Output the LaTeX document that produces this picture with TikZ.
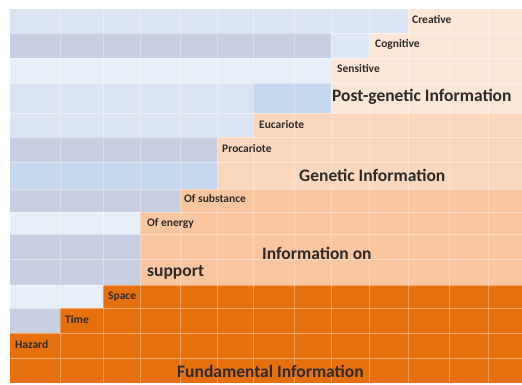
\documentclass[tikz,border=0pt]{standalone}
\usepackage{fontspec}
\setmainfont{Carlito}
\definecolor{bleuA}{HTML}{DAE4F2}
\definecolor{bleuB}{HTML}{C9CFE3}
\definecolor{bleuC}{HTML}{E8EEF7}
\definecolor{bleuD}{HTML}{C6D8F0}
\definecolor{bleuE}{HTML}{DDE7F5}
\definecolor{pecheA}{HTML}{FCE6D8}
\definecolor{pecheB}{HTML}{FBD7BD}
\definecolor{pecheC}{HTML}{F9C6A0}
\definecolor{orangeF}{HTML}{E6700D}
\definecolor{texte}{HTML}{2E2A28}

\begin{document}
\begin{tikzpicture}[x=1pt,y=-1pt,
   petit/.style={font=\bfseries\fontsize{11.5}{12}\selectfont,text=texte,anchor=west,inner sep=0pt},
   grand/.style={font=\bfseries\fontsize{17.5}{18}\selectfont,text=texte,anchor=west,inner sep=0pt}]
   \useasboundingbox (0,0) rectangle (522,385);
   % bandes : haut / bas / debut de l'escalier / bleu / peche
   \foreach \h/\b/\d/\cb/\cp in {9/33/408/bleuA/pecheA, 33/58/369/bleuB/pecheA,
       58/83/331/bleuC/pecheA, 83/113/331/bleuA/pecheA, 113/137/253/bleuA/pecheB,
       137/162/217/bleuB/pecheB, 162/189/217/bleuD/pecheB, 189/212/180/bleuB/pecheC,
       212/234/140/bleuC/pecheC, 234/259/140/bleuB/pecheC, 259/285/140/bleuB/pecheC,
       285/308/103/bleuC/orangeF, 308/333/60/bleuB/orangeF, 333/358/10/bleuB/orangeF,
       358/383/10/bleuB/orangeF}
   {
     \fill[\cb] (10,\h) rectangle (\d,\b);
     \fill[\cp] (\d,\h) rectangle (522,\b);
   }
   \fill[bleuD] (253,83) rectangle (331,113);
   \fill[bleuE] (331,33) rectangle (369,58);
   % grille
   \foreach \x in {60,103,140,180,217,253,294,331,369,408,449,488}
     \draw[white,opacity=.3,line width=.6pt] (\x,9) -- (\x,383);
   \foreach \y in {33,58,83,113,137,162,189,212,234,259,285,308,333,358}
     \draw[white,opacity=.4,line width=.6pt] (10,\y) -- (522,\y);
   % textes
   \node[petit] (creative) at (412,20) {Creative};
   \node[petit] (cognitive) at (375,44) {Cognitive};
   \node[petit] (sensitive) at (337,69) {Sensitive};
   \node[grand] (postgen) at (332,97) {Post-genetic Information};
   \node[petit] (eucariote) at (259,125) {Eucariote};
   \node[petit] (procariote) at (222,149) {Procariote};
   \node[grand] (genetic) at (299,175) {Genetic Information};
   \node[petit] (substance) at (184,199) {Of substance};
   \node[petit] (energy) at (147,223) {Of energy};
   \node[grand] (infoon) at (262,253) {Information on};
   \node[grand] (support) at (147,272) {support};
   \node[petit] (space) at (108,297) {Space};
   \node[petit] (time) at (65,320) {Time};
   \node[petit] (hazard) at (15,345) {Hazard};
   \node[grand] (fundamental) at (177,371) {Fundamental Information};
\end{tikzpicture}
\end{document}
